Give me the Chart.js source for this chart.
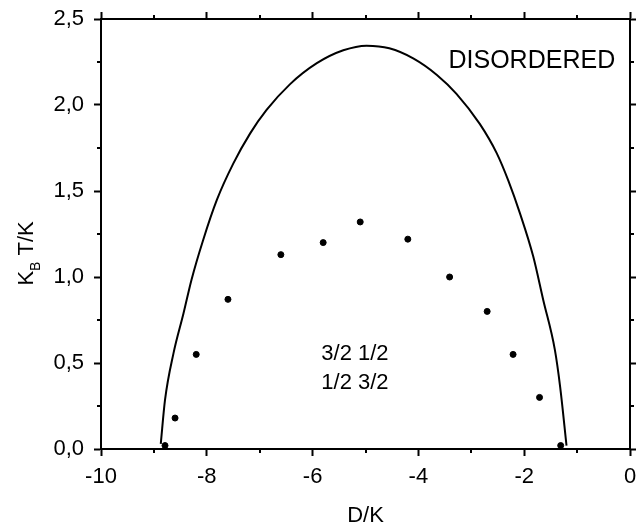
<!DOCTYPE html>
<html lang="en">
<head>
    <meta charset="utf-8">
    <title>Phase diagram</title>
    <style>
        body {
            margin: 0;
            background: #fff;
            font-family: "Liberation Sans", Arial, sans-serif;
        }

        .chart-box {
            width: 636px;
            height: 531px;
        }
    </style>
    <script src="https://cdn.jsdelivr.net/npm/chart.js"></script>
</head>
<body>

<div class="chart-box">
    <canvas id="phaseChart"></canvas>
</div>

<script>
    // boundary of the disordered phase (solid line)
    const curveD = [-8.87, -8.79, -8.63, -8.44, -8.29, -8.07, -7.81, -7.50, -7.18, -6.87, -6.43, -5.92, -5.42,
        -4.98, -4.55, -4.09, -3.65, -3.28, -2.84, -2.52, -2.30, -2.08, -1.83, -1.64, -1.42, -1.32, -1.20];
    const curveT = [0.03, 0.285, 0.556, 0.789, 0.983, 1.214, 1.448, 1.659, 1.835, 1.971, 2.12, 2.243, 2.318,
        2.345, 2.33, 2.27, 2.175, 2.065, 1.89, 1.72, 1.56, 1.37, 1.12, 0.866, 0.576, 0.36, 0.02];

    // dotted points
    const dotD = [-8.79, -8.60, -8.20, -7.60, -6.60, -5.80, -5.10, -4.20, -3.41, -2.70, -2.21, -1.71, -1.31];
    const dotT = [0.02, 0.18, 0.55, 0.87, 1.13, 1.20, 1.32, 1.22, 1.00, 0.80, 0.55, 0.30, 0.02];

    const xMinorTicks = [-9, -7, -5, -3, -1];
    const yMinorTicks = [0.25, 0.75, 1.25, 1.75, 2.25];

    const FONT = '"Liberation Sans", Arial, sans-serif';

    function toPoints(xs, ys) {
        return xs.map((x, i) => ({x: x, y: ys[i]}));
    }

    // fixed box size, no extra room for overhanging labels
    function fixSize(w, h) {
        return s => {
            if (w !== null) s.width = w;
            if (h !== null) s.height = h;
            s.paddingLeft = s.paddingRight = s.paddingTop = s.paddingBottom = 0;
        };
    }

    function axisStyle(extra) {
        return Object.assign({
            type: 'linear',
            grid: {drawOnChartArea: false, tickLength: 7, tickWidth: 2, tickColor: '#000'},
            border: {color: '#000', width: 2}
        }, extra);
    }

    // minor ticks, y title and the two text labels
    const extras = {
        id: 'extras',
        afterDraw(chart) {
            const ctx = chart.ctx;
            const xs = chart.scales.x, ys = chart.scales.y;
            const area = chart.chartArea;
            ctx.save();
            ctx.strokeStyle = '#000';
            ctx.lineWidth = 2;
            ctx.beginPath();
            xMinorTicks.forEach(v => {
                const px = Math.round(xs.getPixelForValue(v));
                ctx.moveTo(px, area.bottom);
                ctx.lineTo(px, area.bottom + 4);
                ctx.moveTo(px, area.top);
                ctx.lineTo(px, area.top - 4);
            });
            yMinorTicks.forEach(v => {
                const py = Math.round(ys.getPixelForValue(v));
                ctx.moveTo(area.left, py);
                ctx.lineTo(area.left - 4, py);
                ctx.moveTo(area.right, py);
                ctx.lineTo(area.right + 4, py);
            });
            ctx.stroke();

            ctx.fillStyle = '#000';
            ctx.textBaseline = 'alphabetic';
            ctx.font = '25px ' + FONT;
            ctx.textAlign = 'right';
            ctx.fillText('DISORDERED', xs.getPixelForValue(-0.28), ys.getPixelForValue(2.215));

            ctx.font = '22px ' + FONT;
            ctx.textAlign = 'center';
            ctx.fillText('3/2 1/2', xs.getPixelForValue(-5.2), ys.getPixelForValue(0.52));
            ctx.fillText('1/2 3/2', xs.getPixelForValue(-5.2), ys.getPixelForValue(0.35));

            // y axis title with subscript
            ctx.translate(33, ys.getPixelForValue(0.95));
            ctx.rotate(-Math.PI / 2);
            ctx.textAlign = 'left';
            ctx.font = '22px ' + FONT;
            ctx.fillText('K', 0, 0);
            let w = ctx.measureText('K').width;
            ctx.font = '14px ' + FONT;
            ctx.fillText('B', w, 7);
            w += ctx.measureText('B').width;
            ctx.font = '22px ' + FONT;
            ctx.fillText(' T/K', w, 0);
            ctx.restore();
        }
    };

    new Chart(document.getElementById('phaseChart'), {
        type: 'scatter',
        data: {
            datasets: [{
                data: toPoints(curveD, curveT),
                showLine: true,
                borderColor: '#000',
                borderWidth: 2,
                pointRadius: 0,
                cubicInterpolationMode: 'monotone'
            }, {
                data: toPoints(dotD, dotT),
                showLine: false,
                backgroundColor: '#000',
                borderColor: '#000',
                pointRadius: 3
            }]
        },
        options: {
            responsive: true,
            maintainAspectRatio: false,
            animation: false,
            layout: {padding: 0},
            plugins: {legend: {display: false}, tooltip: {enabled: false}},
            scales: {
                x: axisStyle({
                    position: 'bottom', min: -10, max: 0,
                    ticks: {stepSize: 2, color: '#000', padding: 8, font: {family: FONT, size: 22}},
                    title: {display: true, text: 'D/K', color: '#000', padding: {top: 0, bottom: 2},
                        font: {family: FONT, size: 22}},
                    afterFit: fixSize(null, 82)
                }),
                y: axisStyle({
                    position: 'left', min: 0, max: 2.5,
                    ticks: {stepSize: 0.5, color: '#000', padding: 10, font: {family: FONT, size: 22},
                        callback: v => v.toFixed(1).replace('.', ',')},
                    afterFit: fixSize(101, null)
                }),
                x2: axisStyle({
                    position: 'top', min: -10, max: 0,
                    ticks: {stepSize: 2, display: false},
                    afterFit: fixSize(null, 19)
                }),
                y2: axisStyle({
                    position: 'right', min: 0, max: 2.5,
                    ticks: {stepSize: 0.5, display: false},
                    afterFit: fixSize(6, null)
                })
            }
        },
        plugins: [extras]
    });
</script>
</body>
</html>
